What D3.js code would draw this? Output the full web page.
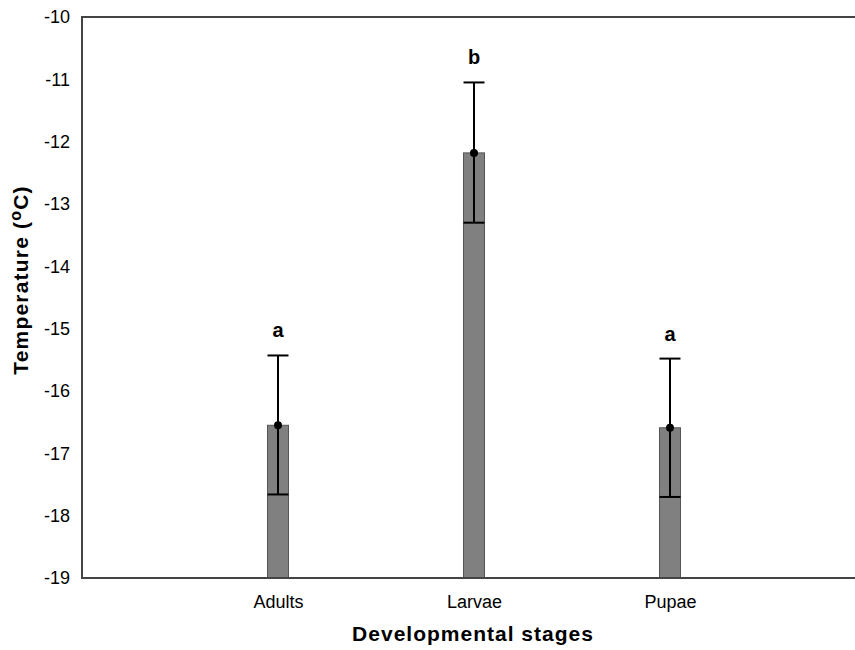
<!DOCTYPE html>
<html><head><meta charset="utf-8">
<script src="https://cdn.jsdelivr.net/npm/d3@7"></script>
<style>body{margin:0;background:#fff}svg{display:block}text{font-family:"Liberation Sans",Arial,sans-serif}</style>
</head><body>
<svg id="c" width="855" height="650"></svg>
<script>
const categories = ["Adults", "Larvae", "Pupae"];
const means = [-16.55, -12.18, -16.59];
const errUpper = [-15.43, -11.05, -15.48];
const errLower = [-17.66, -13.30, -17.70];
const letters = ["a", "b", "a"];
const yTicks = [-10, -11, -12, -13, -14, -15, -16, -17, -18, -19];

const svg = d3.select("#c");
const L = 82, R = 866, T = 17, B = 578;
const x = d3.scalePoint().domain(categories).range([L, R]).padding(1);
const y = d3.scaleLinear().domain([-19, -10]).range([B, T]);

const barW = 21, capW = 21;
const FONT = '"Liberation Sans",Arial,sans-serif';

// bars
svg.append("g").selectAll("rect").data(categories).join("rect")
  .attr("x", d => x(d) - barW / 2)
  .attr("y", (d, i) => y(means[i]))
  .attr("width", barW)
  .attr("height", (d, i) => y(-19) - y(means[i]))
  .attr("fill", "#808080").attr("stroke", "#555").attr("stroke-width", 1);

// axes frame
const axisColor = "#444";
svg.append("line").attr("x1", L).attr("x2", 855).attr("y1", T).attr("y2", T).attr("stroke", axisColor).attr("stroke-width", 2);
svg.append("line").attr("x1", L).attr("x2", 855).attr("y1", B).attr("y2", B).attr("stroke", axisColor).attr("stroke-width", 2);
svg.append("line").attr("x1", L).attr("x2", L).attr("y1", T - 1).attr("y2", B + 1).attr("stroke", axisColor).attr("stroke-width", 2);

// y axis labels
const yAx = d3.axisLeft(y).tickValues(yTicks).tickSize(0).tickPadding(12).tickFormat(d => String(d));
const gy = svg.append("g").attr("transform", `translate(${L},0)`).call(yAx);
gy.select(".domain").remove();
gy.selectAll("text").attr("font-size", 18).attr("fill", "#000").style("font-family", FONT);

// x axis labels
const xAx = d3.axisBottom(x).tickSize(0).tickPadding(17);
const gx = svg.append("g").attr("transform", `translate(0,${B})`).call(xAx);
gx.select(".domain").remove();
gx.selectAll("text").attr("font-size", 18).attr("fill", "#000").style("font-family", FONT);

// error bars
const eg = svg.append("g").attr("stroke", "#000").attr("stroke-width", 2);
categories.forEach((c, i) => {
  const cx = x(c);
  eg.append("line").attr("x1", cx).attr("x2", cx).attr("y1", y(errUpper[i])).attr("y2", y(errLower[i]));
  eg.append("line").attr("x1", cx - capW / 2).attr("x2", cx + capW / 2).attr("y1", y(errUpper[i])).attr("y2", y(errUpper[i]));
  eg.append("line").attr("x1", cx - capW / 2).attr("x2", cx + capW / 2).attr("y1", y(errLower[i])).attr("y2", y(errLower[i]));
});
svg.append("g").selectAll("circle").data(categories).join("circle")
  .attr("cx", d => x(d)).attr("cy", (d, i) => y(means[i])).attr("r", 4).attr("fill", "#000");

// letters
svg.append("g").selectAll("text").data(categories).join("text")
  .attr("x", d => x(d)).attr("y", (d, i) => y(errUpper[i]) - 18)
  .attr("text-anchor", "middle").attr("font-size", 20).attr("font-weight", "bold")
  .text((d, i) => letters[i]);

// titles
svg.append("text").attr("x", 473).attr("y", 641).attr("text-anchor", "middle")
  .attr("font-size", 21).attr("font-weight", "bold").attr("letter-spacing", 1)
  .text("Developmental stages");
const yl = svg.append("text").attr("transform", "translate(28,280) rotate(-90)").attr("text-anchor", "middle")
  .attr("font-size", 21).attr("font-weight", "bold").attr("letter-spacing", 1.2);
yl.append("tspan").text("Temperature (");
yl.append("tspan").attr("font-size", 16).attr("dy", -7).text("o");
yl.append("tspan").attr("dy", 7).text("C)");
</script>
</body></html>
